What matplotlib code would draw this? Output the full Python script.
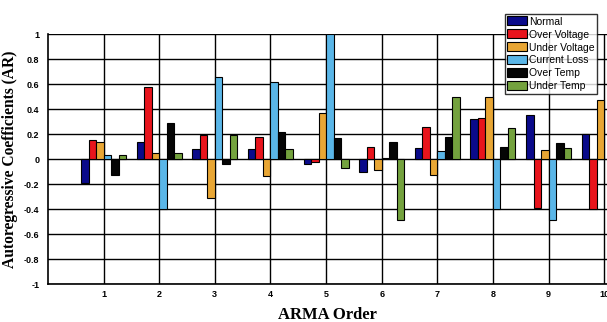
import numpy as np
import matplotlib.pyplot as plt

nan = np.nan

# ARMA order (x categories)
orders = [1, 2, 3, 4, 5, 6, 7, 8, 9, 10]

# AR coefficients per fault type (last group is partly cut off in the source)
normal = [-0.19, 0.14, 0.08, 0.08, -0.04, -0.10, 0.085, 0.32, 0.35, 0.20]
over_voltage = [0.15, 0.58, 0.19, 0.18, -0.02, 0.10, 0.26, 0.33, -0.39, -0.40]
under_voltage = [0.14, 0.045, -0.31, -0.135, 0.37, -0.09, -0.13, 0.50, 0.075, 0.47]
current_loss = [0.03, -0.40, 0.66, 0.62, 1.0, 0.01, 0.065, -0.40, -0.49, nan]
over_temp = [-0.13, 0.29, -0.04, 0.22, 0.17, 0.14, 0.18, 0.10, 0.125, nan]
under_temp = [0.03, 0.045, 0.19, 0.08, -0.07, -0.49, 0.50, 0.25, 0.085, nan]

labels = ["Normal", "Over Voltage", "Under Voltage", "Current Loss", "Over Temp", "Under Temp"]
colors = ["#0a0a8a", "#e8141c", "#e8a634", "#5ab6e8", "#050505", "#74a23e"]
series = [normal, over_voltage, under_voltage, current_loss, over_temp, under_temp]

fig = plt.figure(figsize=(6.07, 3.22), dpi=100)
ax = fig.add_axes([0.079, 0.118, 0.921, 0.776])

x = np.array(orders, dtype=float)
width = 0.135
for i, (vals, lab, col) in enumerate(zip(series, labels, colors)):
    ax.bar(x + (i - 2.5) * width, vals, width, color=col, edgecolor="black",
           linewidth=0.8, label=lab, zorder=3)

ax.set_xlim(0, 10.05)
ax.set_ylim(-1, 1)
ax.set_xticks(orders)
ax.set_yticks(np.arange(-1, 1.01, 0.2))
ax.set_yticklabels(["-1", "-0.8", "-0.6", "-0.4", "-0.2", "0", "0.2", "0.4", "0.6", "0.8", "1"])
ax.grid(True, color="black", linewidth=1.0, zorder=0)
ax.tick_params(axis="y", length=0, labelsize=6.5, pad=6)
ax.tick_params(axis="x", length=0, labelsize=6.5, pad=4)
for t in ax.get_xticklabels() + ax.get_yticklabels():
    t.set_fontfamily("Liberation Sans")
    t.set_fontweight("bold")
for s in ["top", "right"]:
    ax.spines[s].set_visible(False)
ax.spines["left"].set_linewidth(1.2)
ax.spines["bottom"].set_linewidth(1.2)

ax.set_xlabel("ARMA Order", fontfamily="Liberation Serif", fontweight="bold",
              fontsize=12, labelpad=6)
ax.set_ylabel("Autoregressive Coefficients (AR)", fontfamily="Liberation Serif",
              fontweight="bold", fontsize=11.2, labelpad=4)

handles, labs = ax.get_legend_handles_labels()
leg = fig.legend(handles, labs, loc="upper right", bbox_to_anchor=(0.984, 0.957),
                 prop={"family": "Liberation Sans", "size": 7.5},
                 frameon=True, fancybox=False, edgecolor="black",
                 handlelength=1.9, handleheight=0.95, handletextpad=0.2,
                 labelspacing=0.28, borderpad=0.25, borderaxespad=0)
leg.get_frame().set_linewidth(1.0)
leg.set_zorder(5)

fig.savefig("out.png", dpi=100)
